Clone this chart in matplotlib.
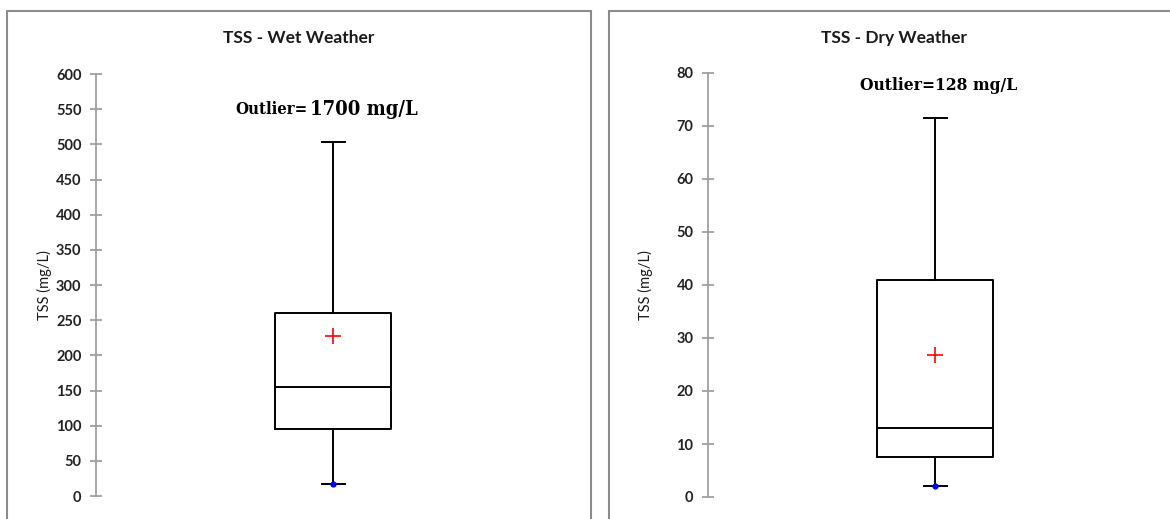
import matplotlib
matplotlib.use("Agg")
import matplotlib.pyplot as plt
from matplotlib.patches import Rectangle

# Data
titles = ["TSS - Wet Weather", "TSS - Dry Weather"]
ylabel = "TSS (mg/L)"
wet_stats = dict(whislo=17, q1=95, med=155, q3=260, whishi=503, mean=227)
dry_stats = dict(whislo=2, q1=7.5, med=13, q3=41, whishi=71.5, mean=26.8)
wet_ticks = [0, 50, 100, 150, 200, 250, 300, 350, 400, 450, 500, 550, 600]
dry_ticks = [0, 10, 20, 30, 40, 50, 60, 70, 80]
outlier_notes = [("Outlier=", "1700 mg/L"), ("Outlier=", "128 mg/L")]

W, H = 1170, 519
fig = plt.figure(figsize=(W / 100, H / 100), dpi=100)

def fx(px):
    return px / W

def fy(py):
    return 1 - py / H

# panel borders
for x0, x1 in [(7, 591), (609, 1185)]:
    fig.patches.append(Rectangle((fx(x0), fy(530)), fx(x1 - x0), (530 - 11) / H,
                                 transform=fig.transFigure, fill=False,
                                 edgecolor="#8c8c8c", linewidth=1.5))

panels = [
    dict(stats=wet_stats, ticks=wet_ticks, ax_left=96, ax_right=570, y0=496, ytop=74,
         title_x=299, ylabel_x=44, note_x=308, note_y=109),
    dict(stats=dry_stats, ticks=dry_ticks, ax_left=708, ax_right=1162, y0=497, ytop=73,
         title_x=894, ylabel_x=645, note_x=939, note_y=86),
]

serif = ["DejaVu Serif"]

for i, p in enumerate(panels):
    ax = fig.add_axes([fx(p["ax_left"]), fy(p["y0"]), fx(p["ax_right"] - p["ax_left"]),
                       (p["y0"] - p["ytop"]) / H])
    s = dict(p["stats"])
    s["fliers"] = []
    s["label"] = ""
    axw = p["ax_right"] - p["ax_left"]
    bw = 116 / axw
    cw = 23 / axw
    ax.bxp([s], positions=[0.5], widths=[bw], capwidths=[cw], showmeans=True,
           showfliers=False, patch_artist=False,
           boxprops=dict(color="black", linewidth=1.4),
           medianprops=dict(color="black", linewidth=1.4),
           whiskerprops=dict(color="black", linewidth=1.4),
           capprops=dict(color="black", linewidth=1.4),
           meanprops=dict(marker="+", markeredgecolor="red", markersize=12,
                          markeredgewidth=1.2, linestyle="none"))
    ax.plot([0.5], [s["whislo"]], "o", color="blue", markersize=3.5, zorder=5)
    ax.set_xlim(0, 1)
    ax.set_ylim(p["ticks"][0], p["ticks"][-1])
    ax.set_yticks(p["ticks"])
    ax.set_yticklabels([str(t) for t in p["ticks"]], fontfamily="Lato",
                       fontweight="bold", fontsize=10.5, color="#222222")
    ax.set_xticks([])
    for sp in ["top", "right", "bottom"]:
        ax.spines[sp].set_visible(False)
    ax.spines["left"].set_color("#a0a0a0")
    ax.spines["left"].set_linewidth(1.3)
    ax.tick_params(axis="y", direction="inout", length=9, width=1.3, color="#a0a0a0", pad=6)
    ax.patch.set_alpha(0)

    fig.text(fx(p["title_x"]), fy(38), titles[i], ha="center", va="center",
             fontfamily="Lato", fontweight="bold", fontsize=12.5, color="#1a1a1a")
    fig.text(fx(p["ylabel_x"]), fy(285), ylabel, ha="center", va="center", rotation=90,
             fontfamily="Lato", fontsize=10.5, color="#1a1a1a")

    a, b = outlier_notes[i]
    if i == 0:
        fig.text(fx(p["note_x"]), fy(p["note_y"]), a, ha="right", va="center",
                 fontfamily=serif, fontweight="bold", fontstretch="condensed", fontsize=12)
        fig.text(fx(p["note_x"] + 2), fy(p["note_y"]), b, ha="left", va="center",
                 fontfamily=serif, fontweight="bold", fontstretch="condensed", fontsize=14.5)
    else:
        fig.text(fx(p["note_x"]), fy(p["note_y"]), a + b, ha="center", va="center",
                 fontfamily=serif, fontweight="bold", fontstretch="condensed", fontsize=12.5)

fig.savefig("out.png", dpi=100)
